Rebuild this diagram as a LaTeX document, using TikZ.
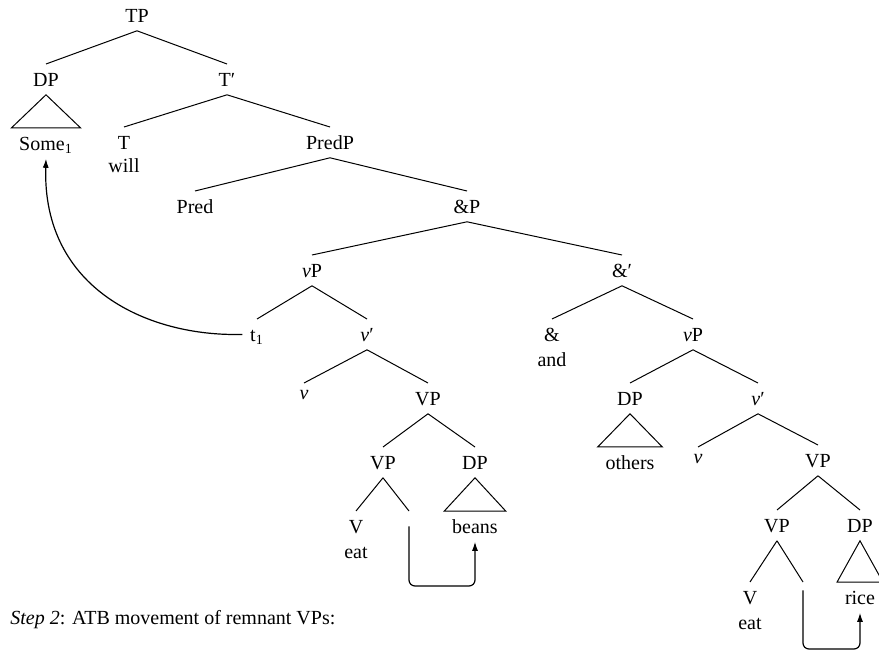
\documentclass[tikz,border=0pt]{standalone}
\usepackage{fontspec}
\setmainfont{Liberation Serif}
\usetikzlibrary{arrows.meta}
\begin{document}
\begin{tikzpicture}[x=0.5pt,y=-0.5pt,
  tn/.style={anchor=north,inner xsep=3.75pt,inner ysep=4pt,text height=7pt,text depth=0pt,font=\fontsize{10}{12}\selectfont},
  nu/.style={tn,text height=4pt},
  wd/.style={anchor=base,inner xsep=3.75pt,inner ysep=4pt,text height=7pt,text depth=0pt,font=\fontsize{10}{12}\selectfont},
  br/.style={line width=0.5pt},
  mv/.style={line width=0.6pt,-{Latex[length=4.5pt,width=3pt]}},
]
\useasboundingbox (0,0) rectangle (879,652);

% tree nodes
\node[tn] (TP) at (137,0) {TP};
\node[tn] (DPa) at (46,64) {DP};
\node[tn] (Tb) at (227,64) {T′};
\node[tn] (Some) at (46,128) {Some\textsubscript{1}};
\node[tn] (T) at (124,127) {T};
\node[wd] (will) at ([yshift=-11.5pt]T.base) {will};
\node[tn] (PredP) at (330,127) {PredP};
\node[tn] (Pred) at (195,191) {Pred};
\node[tn] (AndP) at (467,191) {\&P};
\node[tn] (vPa) at (312,255) {\textit{ν}P};
\node[tn] (Andb) at (622,255) {\&′};
\node[tn] (ta) at (257,319) {t\textsubscript{1}};
\node[tn] (vba) at (367,319) {\textit{ν}′};
\node[tn] (And) at (552,319) {\&};
\node[wd] (and) at ([yshift=-12.5pt]And.base) {and};
\node[tn] (vPb) at (693,319) {\textit{ν}P};
\node[nu] (va) at (304,383) {\textit{ν}};
\node[tn] (VPa) at (428,383) {VP};
\node[tn] (DPb) at (630,383) {DP};
\node[tn] (vbb) at (758,383) {\textit{ν}′};
\node[tn] (others) at (630,447) {others};
\node[tn] (VPb) at (383,447) {VP};
\node[tn] (DPc) at (475,447) {DP};
\node[nu] (vb) at (698,447) {\textit{ν}};
\node[tn] (VPc) at (818,445) {VP};
\node[tn] (Va) at (356,511) {V};
\node[wd] (eata) at ([yshift=-12.5pt]Va.base) {eat};
\node[tn] (gapL) at (409,511) {};
\node[tn] (beans) at (475,511) {beans};
\node[tn] (VPd) at (777,510) {VP};
\node[tn] (DPd) at (860,510) {DP};
\node[tn] (Vb) at (750,582) {V};
\node[wd] (eatb) at ([yshift=-12.5pt]Vb.base) {eat};
\node[tn] (gapR) at (803,582) {};
\node[tn] (rice) at (860,582) {rice};

% branches
\draw[br] (TP.south) -- (DPa.north);
\draw[br] (TP.south) -- (Tb.north);
\draw[br] (Tb.south) -- (T.north);
\draw[br] (Tb.south) -- (PredP.north);
\draw[br] (PredP.south) -- (Pred.north);
\draw[br] (PredP.south) -- (AndP.north);
\draw[br] (AndP.south) -- (vPa.north);
\draw[br] (AndP.south) -- (Andb.north);
\draw[br] (vPa.south) -- (ta.north);
\draw[br] (vPa.south) -- (vba.north);
\draw[br] (vba.south) -- (va.north);
\draw[br] (vba.south) -- (VPa.north);
\draw[br] (VPa.south) -- (VPb.north);
\draw[br] (VPa.south) -- (DPc.north);
\draw[br] (VPb.south) -- (Va.north);
\draw[br] (VPb.south) -- (gapL.north);
\draw[br] (Andb.south) -- (And.north);
\draw[br] (Andb.south) -- (vPb.north);
\draw[br] (vPb.south) -- (DPb.north);
\draw[br] (vPb.south) -- (vbb.north);
\draw[br] (vbb.south) -- (vb.north);
\draw[br] (vbb.south) -- (VPc.north);
\draw[br] (VPc.south) -- (VPd.north);
\draw[br] (VPc.south) -- (DPd.north);
\draw[br] (VPd.south) -- (Vb.north);
\draw[br] (VPd.south) -- (gapR.north);

% triangles over unanalysed phrases
\draw[br] (DPa.south) -- (Some.north west) -- (Some.north east) -- cycle;
\draw[br] (DPb.south) -- (others.north west) -- (others.north east) -- cycle;
\draw[br] (DPc.south) -- (beans.north west) -- (beans.north east) -- cycle;
\draw[br] (DPd.south) -- (rice.north west) -- (rice.north east) -- cycle;

% movement arrows
\draw[mv] (ta.west) .. controls (150,337) and (42,290) .. (Some.south);
\coordinate (botL) at (0,586);
\draw[mv,rounded corners=3pt] (gapL.center) -- (gapL.center |- botL) -- (beans.south |- botL) -- (beans.south);
\coordinate (botR) at (0,649);
\draw[mv,rounded corners=3pt] ([yshift=3.5pt]gapR.center) -- (gapR.center |- botR) -- (rice.south |- botR) -- (rice.south);

% caption line
\node[anchor=base west,inner sep=0pt,font=\fontsize{10}{12}\selectfont] (cap) at (10,624) {\textit{Step 2}: ATB movement of remnant VPs:};
\end{tikzpicture}
\end{document}
